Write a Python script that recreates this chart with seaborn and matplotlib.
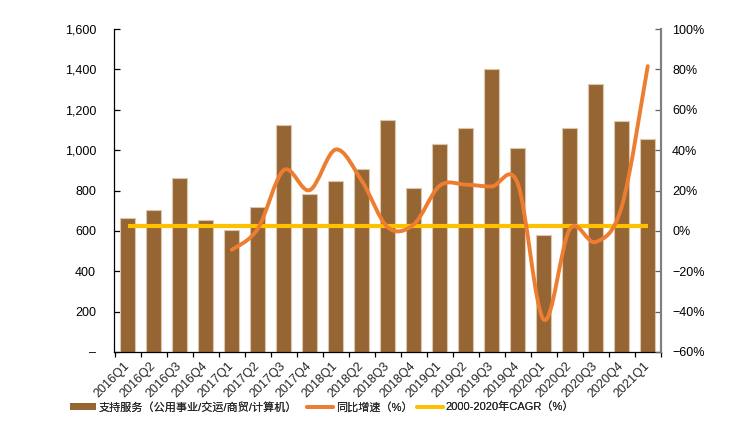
import numpy as np
import pandas as pd
import matplotlib
matplotlib.use("Agg")
import matplotlib.pyplot as plt
import seaborn as sns
from matplotlib.path import Path
from matplotlib.patches import PathPatch, Patch
from matplotlib.lines import Line2D
from matplotlib.ticker import FixedLocator, FuncFormatter

# ---------------- data ----------------
categories = ["2016Q1", "2016Q2", "2016Q3", "2016Q4", "2017Q1", "2017Q2", "2017Q3",
              "2017Q4", "2018Q1", "2018Q2", "2018Q3", "2018Q4", "2019Q1", "2019Q2",
              "2019Q3", "2019Q4", "2020Q1", "2020Q2", "2020Q3", "2020Q4", "2021Q1"]
support_services = [664, 703, 862, 653, 602, 720, 1123, 784, 845, 905, 1147,
                    812, 1031, 1112, 1403, 1013, 582, 1112, 1327, 1142, 1054]
yoy_categories = ["2017Q1", "2017Q2", "2017Q3", "2017Q4", "2018Q1", "2018Q2", "2018Q3",
                  "2018Q4", "2019Q1", "2019Q2", "2019Q3", "2019Q4", "2020Q1", "2020Q2",
                  "2020Q3", "2020Q4", "2021Q1"]
yoy_growth = [-9.4, 1.0, 30.1, 20.2, 40.3, 24.8, 1.8, 3.2, 22.4, 22.9, 22.0,
              23.5, -44.0, 0.8, -5.5, 12.0, 81.6]
cagr_value = 2.3
left_ticks = [0, 200, 400, 600, 800, 1000, 1200, 1400, 1600]
right_ticks = [-60, -40, -20, 0, 20, 40, 60, 80, 100]

bar_label = "支持服务（公用事业/交运/商贸/计算机）"
yoy_label = "同比增速（%）"
cagr_label = "2000-2020年CAGR（%）"

BROWN = "#966534"
ORANGE = "#ED7D31"
YELLOW = "#FFC000"

# ---------------- style ----------------
sns.set_theme(style="white")
plt.rcParams["font.family"] = ["Liberation Sans", "Noto Sans CJK SC", "DejaVu Sans"]
plt.rcParams["axes.unicode_minus"] = True

fig = plt.figure(figsize=(7.33, 4.37), dpi=100)
ax = fig.add_axes([114 / 733, 1 - 352 / 437, (661 - 114) / 733, (352 - 29) / 437])

df = pd.DataFrame({"quarter": categories, "value": support_services})
sns.barplot(data=df, x="quarter", y="value", color=BROWN, saturation=1,
            width=0.56, edgecolor="#dcc7ad", linewidth=0.8, ax=ax)

ax.set_xlim(-0.53, len(categories) - 0.49)
ax.set_ylim(0, 1600)
ax.set_xlabel("")
ax.set_ylabel("")

ax2 = ax.twinx()
ax2.set_ylim(-60, 100)

# CAGR constant line across all categories
sns.lineplot(x=[0, len(categories) - 1], y=[cagr_value, cagr_value], color=YELLOW,
             linewidth=3.0, ax=ax2, solid_capstyle="butt")

# smoothed YoY line (Bezier path through the data points)
xs = np.array([categories.index(c) for c in yoy_categories], dtype=float)
ys = np.array(yoy_growth, dtype=float)
pts = np.column_stack([xs, ys])
verts = [tuple(pts[0])]
codes = [Path.MOVETO]
n = len(pts)
for i in range(n - 1):
    p0 = pts[i - 1] if i > 0 else pts[i]
    p1 = pts[i]
    p2 = pts[i + 1]
    p3 = pts[i + 2] if i + 2 < n else pts[i + 1]
    c1 = p1 + (p2 - p0) / 6.0
    c2 = p2 - (p3 - p1) / 6.0
    verts += [tuple(c1), tuple(c2), tuple(p2)]
    codes += [Path.CURVE4] * 3
ax2.add_patch(PathPatch(Path(verts, codes), facecolor="none", edgecolor=ORANGE,
                        linewidth=2.8, capstyle="round", zorder=3))
ax2.set_xlim(ax.get_xlim())

# ---------------- axes styling ----------------
for sp in ["top"]:
    ax.spines[sp].set_visible(False)
    ax2.spines[sp].set_visible(False)
ax2.spines["left"].set_visible(False)
ax2.spines["bottom"].set_visible(False)
ax.spines["right"].set_visible(False)
ax.spines["left"].set_color("#000000")
ax.spines["left"].set_linewidth(0.9)
ax.spines["bottom"].set_color("#000000")
ax.spines["bottom"].set_linewidth(0.9)
ax2.spines["right"].set_color("#808080")
ax2.spines["right"].set_linewidth(1.6)

ax.yaxis.set_major_locator(FixedLocator(left_ticks))
ax.yaxis.set_major_formatter(FuncFormatter(lambda v, p: "–" if v == 0 else f"{int(v):,}"))
ax.tick_params(axis="y", direction="in", length=4, width=0.9, color="#000000",
               labelsize=9, pad=13, left=True, labelcolor="#000000")

ax2.yaxis.set_major_locator(FixedLocator(right_ticks))
ax2.yaxis.set_major_formatter(FuncFormatter(lambda v, p: f"{int(v)}%".replace("-", "−")))
ax2.tick_params(axis="y", direction="in", length=4, width=0.9, color="#606060",
                labelsize=9, pad=8, right=True, labelcolor="#000000")

ax.set_xticks(range(len(categories)))
ax.set_xticklabels(categories, rotation=45, ha="right", va="center",
                   rotation_mode="anchor", fontsize=9)
ax.tick_params(axis="x", which="major", length=0, pad=9, bottom=True)
ax.set_xticks(np.arange(-0.5, len(categories), 1.0), minor=True)
ax.tick_params(axis="x", which="minor", direction="out", length=3.5, width=0.9,
               color="#000000", bottom=True)

# ---------------- legend (three entries placed like the reference) ----------------
entries = [
    (Patch(facecolor=BROWN, edgecolor="none"), bar_label, 70),
    (Line2D([0], [0], color=ORANGE, linewidth=2.8), yoy_label, 307),
    (Line2D([0], [0], color=YELLOW, linewidth=2.8), cagr_label, 417),
]
for h, lab, x0 in entries:
    leg = fig.legend([h], [lab], frameon=False, loc="center left",
                     bbox_to_anchor=(x0 / 733, 1 - 407 / 437), fontsize=8,
                     handlelength=2.3, handleheight=0.55, handletextpad=0.3,
                     borderpad=0, borderaxespad=0)
    fig.add_artist(leg)

fig.savefig("out.png", dpi=100, facecolor="white")
